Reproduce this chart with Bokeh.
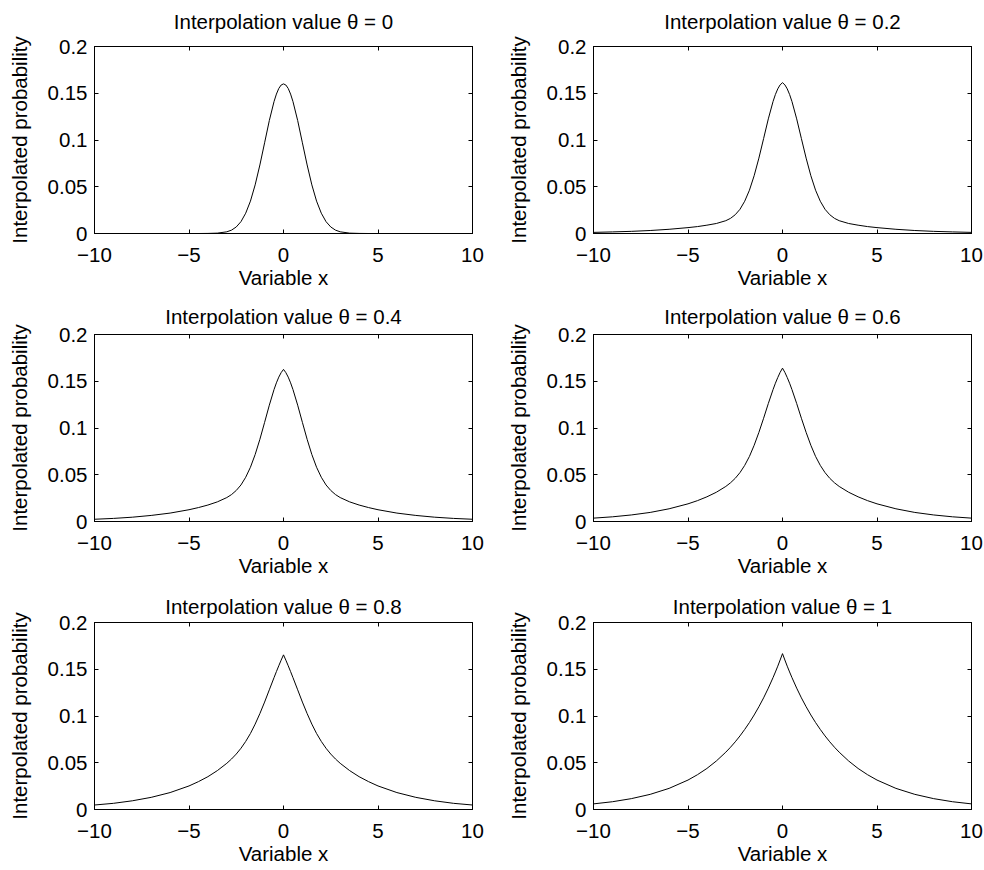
from bokeh.plotting import figure
from bokeh.layouts import column, row
from bokeh.models import Range1d, FixedTicker, LinearAxis
from bokeh.embed import file_html
from bokeh.resources import INLINE

# ---- data (curves are symmetric about x = 0; values read for x >= 0) ----
x_half = [0, 0.125, 0.25, 0.375, 0.5, 0.75, 1, 1.25, 1.5, 1.75, 2, 2.25, 2.5,
          2.75, 3, 3.5, 4, 4.5, 5, 6, 7, 8, 9, 10]

theta_values = ["0", "0.2", "0.4", "0.6", "0.8", "1"]

dens_t00 = [0.1600, 0.1588, 0.1551, 0.1491, 0.1412, 0.1208, 0.0970, 0.0733,
            0.0520, 0.0346, 0.0217, 0.0127, 0.0070, 0.0036, 0.0018, 0.0004,
            0.0001, 0.0, 0.0, 0.0, 0.0, 0.0, 0.0, 0.0]
dens_t02 = [0.1613, 0.1590, 0.1547, 0.1487, 0.1412, 0.1226, 0.1015, 0.0806,
            0.0618, 0.0463, 0.0345, 0.0259, 0.0201, 0.0162, 0.0137, 0.0107,
            0.0089, 0.0074, 0.0063, 0.0045, 0.0032, 0.0023, 0.0017, 0.0012]
dens_t04 = [0.1627, 0.1592, 0.1544, 0.1483, 0.1412, 0.1244, 0.1060, 0.0879,
            0.0716, 0.0580, 0.0473, 0.0391, 0.0332, 0.0288, 0.0256, 0.0210,
            0.0176, 0.0149, 0.0126, 0.0090, 0.0065, 0.0046, 0.0033, 0.0024]
dens_t06 = [0.1640, 0.1595, 0.1540, 0.1479, 0.1411, 0.1262, 0.1104, 0.0953,
            0.0815, 0.0696, 0.0600, 0.0523, 0.0462, 0.0414, 0.0375, 0.0313,
            0.0264, 0.0223, 0.0189, 0.0136, 0.0097, 0.0070, 0.0050, 0.0036]
dens_t08 = [0.1654, 0.1597, 0.1537, 0.1475, 0.1411, 0.1280, 0.1149, 0.1026,
            0.0913, 0.0813, 0.0728, 0.0655, 0.0593, 0.0540, 0.0494, 0.0416,
            0.0351, 0.0298, 0.0252, 0.0181, 0.0130, 0.0093, 0.0066, 0.0048]
dens_t10 = [0.1667, 0.1599, 0.1533, 0.1471, 0.1411, 0.1298, 0.1194, 0.1099,
            0.1011, 0.0930, 0.0856, 0.0787, 0.0724, 0.0666, 0.0613, 0.0519,
            0.0439, 0.0372, 0.0315, 0.0226, 0.0162, 0.0116, 0.0083, 0.0060]

all_dens = [dens_t00, dens_t02, dens_t04, dens_t06, dens_t08, dens_t10]

x_ticks = [-10, -5, 0, 5, 10]
x_tick_labels = ["\u221210", "\u22125", "0", "5", "10"]
y_ticks = [0, 0.05, 0.1, 0.15, 0.2]
y_tick_labels = ["0", "0.05", "0.1", "0.15", "0.2"]

FONT = "Liberation Sans"
FS = "20.5px"


def mirror(xh, yh):
    xs = [-v for v in reversed(xh[1:])] + list(xh)
    ys = list(reversed(yh[1:])) + list(yh)
    return xs, ys


def style_axis(ax, ticks, labels, show_labels=True):
    ax.ticker = FixedTicker(ticks=ticks)
    ax.major_tick_in = 4
    ax.major_tick_out = 0
    ax.minor_tick_line_color = None
    ax.axis_line_color = "black"
    ax.major_tick_line_color = "black"
    ax.major_label_text_color = "black"
    ax.major_label_text_font = FONT
    ax.axis_label_text_font = FONT
    ax.axis_label_text_font_size = FS
    ax.axis_label_text_font_style = "normal"
    ax.axis_label_text_color = "black"
    if show_labels:
        ax.major_label_overrides = {t: l for t, l in zip(ticks, labels)}
        ax.major_label_text_font_size = FS
    else:
        ax.major_label_overrides = {t: "" for t in ticks}
        ax.major_label_text_font_size = "0px"
        ax.major_label_standoff = 0


def make_panel(i):
    col = i % 2
    r = i // 2
    p = figure(frame_width=378, frame_height=187,
               x_range=Range1d(-10, 10), y_range=Range1d(0, 0.2),
               output_backend="svg", toolbar_location=None,
               min_border_left=94 if col == 0 else 88,
               min_border_right=31 if col == 0 else 13,
               min_border_top=46 if r == 0 else 41,
               min_border_bottom=60)
    p.title.visible = False
    p.xgrid.visible = False
    p.ygrid.visible = False
    p.outline_line_color = "black"
    p.background_fill_color = "white"
    p.border_fill_color = "white"

    xa = p.xaxis[0]
    style_axis(xa, x_ticks, x_tick_labels)
    xa.major_label_standoff = 14
    xa.axis_label = "Variable x"
    xa.axis_label_standoff = 1

    ya = p.yaxis[0]
    style_axis(ya, y_ticks, y_tick_labels)
    ya.major_label_standoff = 7
    ya.axis_label = "Interpolated probability"
    ya.axis_label_standoff = 14

    # top axis: inward ticks of the box, and the panel title as its label
    top = LinearAxis()
    style_axis(top, x_ticks, x_tick_labels, show_labels=False)
    top.axis_label = "Interpolation value \u03b8 = " + theta_values[i]
    top.axis_label_standoff = [14, 7, 5][r]
    p.add_layout(top, "above")

    right = LinearAxis()
    style_axis(right, y_ticks, y_tick_labels, show_labels=False)
    p.add_layout(right, "right")

    xs, ys = mirror(x_half, all_dens[i])
    p.line(xs, ys, line_color="black", line_width=1)
    return p


panels = [make_panel(i) for i in range(6)]
layout = column(row(panels[0], panels[1]),
                row(panels[2], panels[3]),
                row(panels[4], panels[5]))

open("out.html", "w").write(file_html(layout, INLINE))
